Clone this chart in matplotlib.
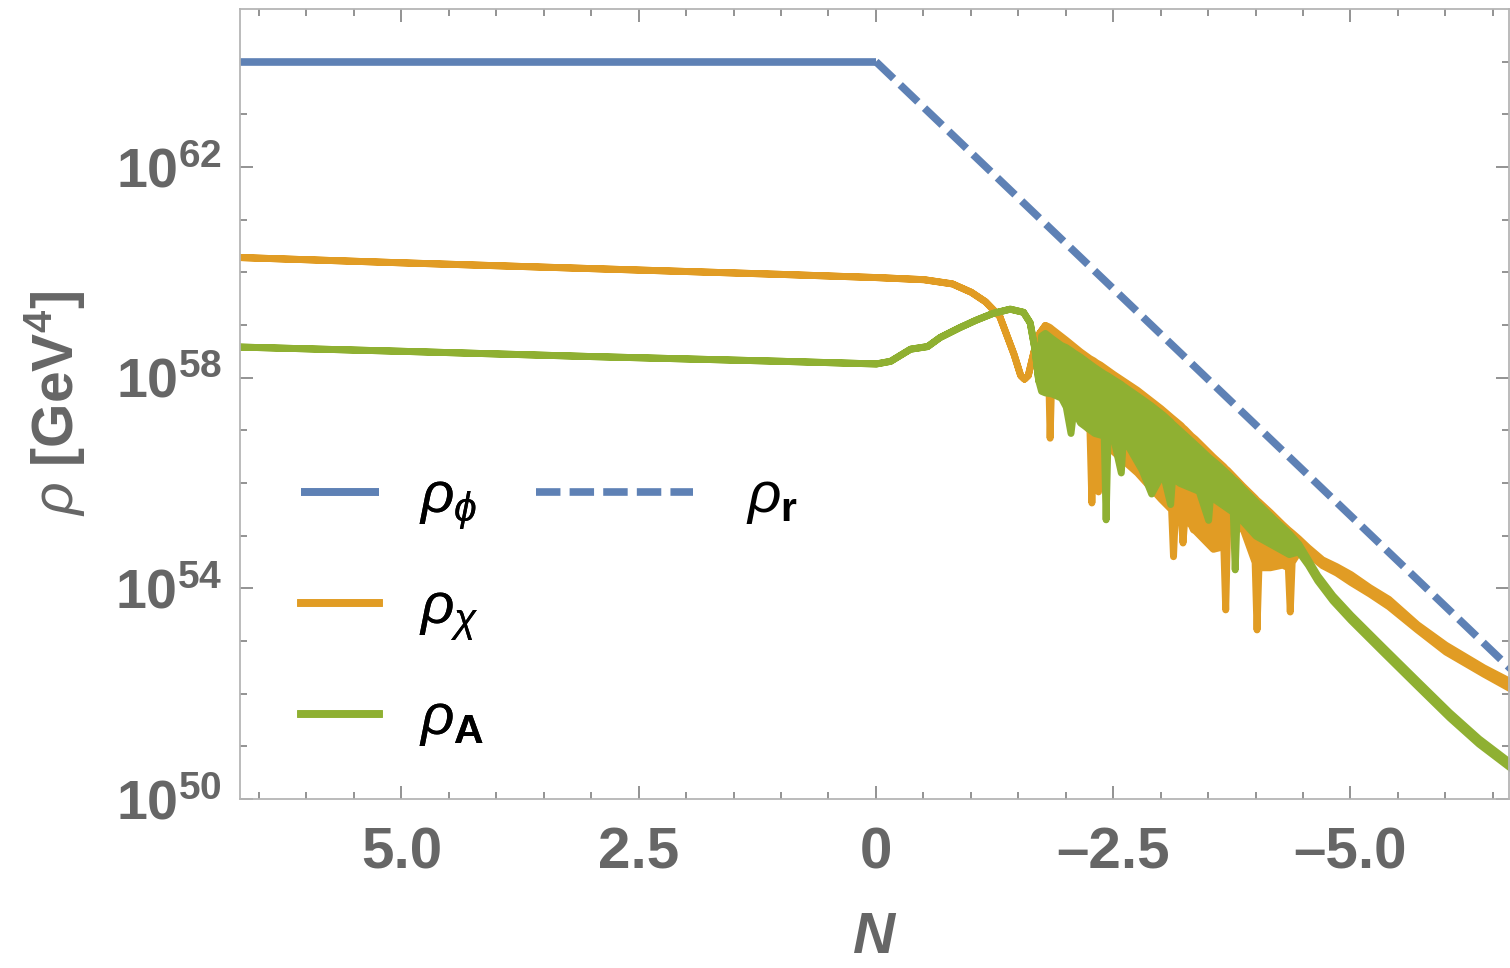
import numpy as np
import matplotlib.pyplot as plt
from matplotlib.lines import Line2D
from matplotlib.ticker import NullFormatter

plt.rcParams['font.family'] = ['Liberation Sans', 'DejaVu Sans']
plt.rcParams['mathtext.fontset'] = 'custom'
plt.rcParams['mathtext.rm'] = 'Liberation Sans'
plt.rcParams['mathtext.it'] = 'Liberation Sans:italic'
plt.rcParams['mathtext.bf'] = 'Liberation Sans:bold'

BLUE = '#5E81B5'
ORANGE = '#E19C24'
GREEN = '#8FB032'
GRAY = '#666666'

# ---- data: N (e-folds) and log10(rho / GeV^4) ----
N_phi = [6.7, 0.0]
phi = [64.0, 64.0]

N_r = [0.0, -6.7]
rad = [64.0, 52.45]

# rho_chi : hi / lo envelope of the fast oscillation (equal where smooth)
N_chi = [6.7, 5.0, 3.0, 1.0, 0.0, -0.5, -0.8, -1.0, -1.15, -1.3, -1.45, -1.52, -1.56, -1.6, -1.66, -1.72, -1.78,
         -1.81, -1.83, -1.85, -2.0, -2.15, -2.25, -2.27, -2.29, -2.32, -2.34, -2.36, -2.5, -2.75, -3.0,
         -3.11, -3.13, -3.15, -3.21, -3.23, -3.25, -3.32, -3.34, -3.36, -3.55, -3.66, -3.68, -3.70, -3.86,
         -3.99, -4.01, -4.03, -4.15, -4.28, -4.34, -4.36, -4.38, -4.45,
         -4.55, -4.7, -4.85, -5.0, -5.2, -5.4, -5.7, -6.0, -6.4, -6.7]
chi_hi = [60.29, 60.19, 60.08, 59.97, 59.91, 59.87, 59.79, 59.63, 59.45, 59.17, 58.45, 58.05, 57.98, 58.05, 58.5, 58.85, 59.0,
          58.98, 58.96, 58.93, 58.72, 58.5, 58.37, 58.35, 58.33, 58.29, 58.27, 58.25, 58.07, 57.77, 57.42,
          57.25, 57.22, 57.19, 57.1, 57.06, 57.03, 56.9, 56.87, 56.84, 56.5, 56.32, 56.28, 56.25, 55.95,
          55.72, 55.68, 55.65, 55.45, 55.22, 55.12, 55.09, 55.06, 54.95,
          54.78, 54.55, 54.42, 54.27, 54.02, 53.8, 53.32, 52.93, 52.5, 52.22]
chi_lo = [60.29, 60.19, 60.08, 59.97, 59.91, 59.87, 59.79, 59.63, 59.45, 59.17, 58.45, 58.05, 57.98, 58.05, 58.5, 58.85, 59.0,
          58.5, 56.86, 58.2, 57.6, 57.2, 57.0, 55.63, 56.95, 56.9, 55.84, 56.85, 56.6, 56.2, 55.7,
          55.5, 54.61, 55.45, 55.4, 54.87, 55.35, 55.2, 55.12, 55.1, 54.75, 54.8, 53.6, 55.1, 55.15,
          54.5, 53.22, 54.4, 54.4, 54.45, 54.4, 53.56, 54.5, 54.7,
          54.66, 54.44, 54.3, 54.12, 53.9, 53.66, 53.22, 52.8, 52.38, 52.08]

# rho_A
N_A = [6.7, 5.0, 3.0, 1.0, 0.0, -0.15, -0.36, -0.54, -0.67, -0.88, -1.05, -1.23, -1.41, -1.55, -1.62, -1.67, -1.71,
       -1.74, -1.78, -1.85, -1.95, -2.0, -2.05, -2.08, -2.15, -2.3, -2.40, -2.42, -2.44, -2.5, -2.58, -2.6,
       -2.64, -2.8, -2.9, -3.02, -3.1, -3.12,
       -3.2, -3.4, -3.5, -3.52, -3.6, -3.72, -3.76, -3.78, -3.80, -3.85, -4.0, -4.2, -4.35, -4.45,
       -4.55, -4.65, -4.81, -5.0, -5.34, -5.7, -6.04, -6.35, -6.7]
A_hi = [58.59, 58.51, 58.41, 58.32, 58.27, 58.32, 58.55, 58.6, 58.77, 58.96, 59.1, 59.23, 59.31, 59.25, 59.05, 58.55, 57.95,
        58.8, 58.85, 58.75, 58.62, 58.58, 58.52, 58.48, 58.4, 58.2, 58.08, 58.06, 58.04, 57.97, 57.88, 57.85,
        57.8, 57.6, 57.47, 57.3, 57.17, 57.13,
        57.0, 56.67, 56.5, 56.47, 56.35, 56.15, 56.08, 56.05, 56.02, 55.92, 55.65, 55.3, 55.05, 54.85,
        54.55, 54.25, 53.87, 53.5, 52.89, 52.25, 51.65, 51.15, 50.67]
A_lo = [58.59, 58.51, 58.41, 58.32, 58.27, 58.32, 58.55, 58.6, 58.77, 58.96, 59.1, 59.23, 59.31, 59.25, 59.05, 58.55, 57.95,
        57.75, 57.72, 57.7, 57.62, 57.45, 56.95, 57.4, 57.15, 56.95, 56.9, 55.31, 56.88, 56.85, 56.2, 56.8,
        56.75, 56.25, 55.8, 56.2, 55.6, 56.1,
        56.0, 55.85, 55.3, 55.75, 55.65, 55.5, 55.45, 54.36, 55.4, 55.3, 55.0, 54.8, 54.65, 54.7,
        54.45, 54.15, 53.77, 53.4, 52.79, 52.15, 51.55, 51.05, 50.57]

x_major = [5.0, 2.5, 0.0, -2.5, -5.0]
x_labels = ['5.0', '2.5', '0', '\u20132.5', '\u20135.0']
y_major = [50, 54, 58, 62]

fig = plt.figure(figsize=(15.1, 9.68), dpi=100)
ax = fig.add_axes([240 / 1510, 1 - 799 / 968, 1269 / 1510, 790 / 968])

l_phi, = ax.plot(N_phi, 10.0 ** np.array(phi), color=BLUE, lw=5.5, solid_capstyle='butt')
l_r, = ax.plot(N_r, 10.0 ** np.array(rad), color=BLUE, lw=5.5, ls=(0, (3.2, 1.2)), dash_capstyle='butt')
ax.fill_between(N_chi, 10.0 ** np.array(chi_lo), 10.0 ** np.array(chi_hi),
                facecolor=ORANGE, edgecolor=ORANGE, lw=5)
ax.fill_between(N_A, 10.0 ** np.array(A_lo), 10.0 ** np.array(A_hi),
                facecolor=GREEN, edgecolor=GREEN, lw=5)

ax.set_yscale('log')
ax.set_xlim(6.7, -6.67)
ax.set_ylim(1e50, 1e65)

ax.set_xticks(x_major)
ax.set_xticklabels(x_labels, fontweight='bold', fontsize=42, color=GRAY)
ax.set_xticks([v for v in np.arange(-6.5, 7.0, 0.5) if v not in x_major], minor=True)
ax.set_yticks([10.0 ** k for k in y_major])
ax.set_yticklabels([r'$\mathbf{10^{%d}}$' % k for k in y_major], fontsize=40, color=GRAY)
ax.set_yticks([10.0 ** k for k in range(51, 65) if k not in y_major], minor=True)
ax.yaxis.set_minor_formatter(NullFormatter())

ax.tick_params(which='both', direction='in', top=True, right=True, color='#8a8a8a', width=1.3)
ax.tick_params(which='major', length=9.5)
ax.tick_params(which='minor', length=5)
ax.tick_params(axis='x', pad=20)
ax.tick_params(axis='y', pad=13)
for s in ax.spines.values():
    s.set_color('#b5b5b5')
    s.set_linewidth(1.3)

ax.set_xlabel('N', fontsize=42, fontweight='bold', fontstyle='italic', color=GRAY, labelpad=22)
ax.set_ylabel(r'$\rho\ \mathbf{[GeV^4]}$', fontsize=41, color=GRAY, labelpad=20)

h_chi = Line2D([], [], color=ORANGE, lw=5.5)
h_A = Line2D([], [], color=GREEN, lw=5.5)
leg1 = fig.legend([l_phi, h_chi, h_A], [r'$\rho_\phi$', r'$\rho_\chi$', r'$\rho_{\mathbf{A}}$'],
                  loc='upper left', bbox_to_anchor=(301 / 1510, 1 - 470 / 968), frameon=False,
                  fontsize=42, handlelength=1.33, handletextpad=0.69, labelspacing=0.86,
                  borderpad=0, borderaxespad=0)
leg2 = fig.legend([l_r], [r'$\rho_{\mathbf{r}}$'],
                  loc='upper left', bbox_to_anchor=(536 / 1510, 1 - 470 / 968), frameon=False,
                  fontsize=42, handlelength=2.69, handletextpad=0.91,
                  borderpad=0, borderaxespad=0)
fig.add_artist(leg1)

fig.savefig('out.png', dpi=100)
